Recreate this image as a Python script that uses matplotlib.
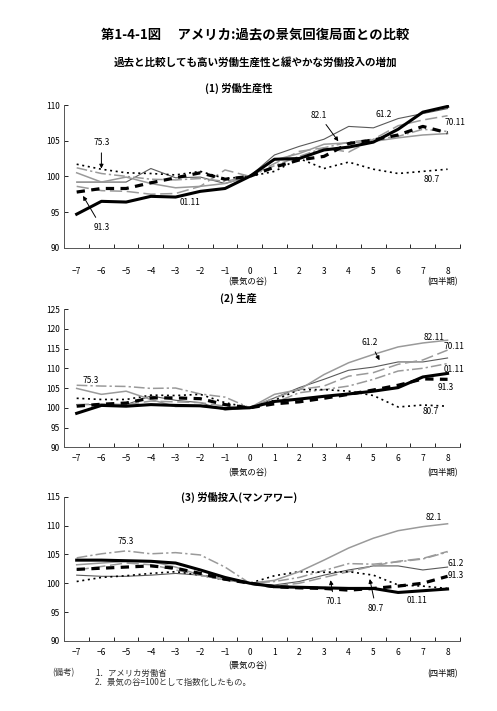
import numpy as np
import matplotlib
matplotlib.use("Agg")
import matplotlib.pyplot as plt

plt.rcParams['font.family'] = ['Noto Sans CJK JP', 'DejaVu Sans']

quarters = list(range(-7, 9))
tick_labels = ['−7', '−6', '−5', '−4', '−3', '−2', '−1', '0',
               '1', '2', '3', '4', '5', '6', '7', '8']

# (1) labor productivity
prod_6102 = [99.2, 99.2, 99.2, 101.1, 99.8, 99.9, 99.0, 100, 103.0, 104.2, 105.2, 107.0, 106.8, 108.1, 108.8, 109.5]
prod_7011 = [98.6, 98.0, 97.9, 97.5, 97.6, 98.6, 100.9, 100, 101.8, 103.5, 104.0, 103.4, 105.2, 107.1, 107.9, 108.5]
prod_7503 = [101.2, 100.4, 100.0, 99.6, 99.5, 99.7, 99.3, 100, 101.5, 102.8, 104.0, 104.8, 105.2, 105.6, 106.6, 106.3]
prod_8007 = [101.7, 101.0, 100.5, 100.4, 100.2, 100.7, 99.7, 100, 100.7, 102.5, 101.1, 102.0, 101.0, 100.4, 100.7, 101.0]
prod_8201 = [100.5, 99.2, 99.9, 99.0, 98.4, 98.6, 99.0, 100, 102.3, 103.2, 104.5, 104.7, 104.9, 105.4, 105.8, 106.0]
prod_9103 = [97.8, 98.3, 98.3, 99.1, 99.8, 100.5, 99.6, 100, 101.3, 102.3, 102.8, 104.6, 105.1, 105.8, 107.0, 106.1]
prod_0111 = [94.7, 96.5, 96.4, 97.2, 97.1, 97.9, 98.3, 100, 102.4, 102.5, 103.7, 104.1, 104.8, 106.6, 109.0, 109.8]

# (2) output
out_6102 = [100.8, 100.8, 100.8, 103.0, 101.9, 101.3, 99.4, 100, 102.5, 105.1, 107.2, 109.5, 110.3, 111.6, 111.6, 112.6]
out_7011 = [100.8, 101.0, 100.8, 101.7, 101.5, 101.3, 100.4, 100, 102.5, 104.6, 105.5, 108.0, 108.9, 111.0, 112.1, 114.6]
out_7503 = [105.7, 105.5, 105.4, 104.9, 105.0, 103.5, 102.7, 100, 101.3, 103.8, 104.6, 105.5, 107.2, 109.3, 110.0, 111.2]
out_8007 = [102.4, 102.1, 102.1, 103.2, 103.1, 103.4, 101.3, 100, 101.9, 104.6, 104.6, 104.2, 103.1, 100.2, 100.7, 100.4]
out_8201 = [104.9, 103.4, 104.2, 102.1, 100.3, 100.4, 99.7, 100, 103.4, 104.6, 108.4, 111.4, 113.5, 115.4, 116.4, 117.1]
out_9103 = [100.4, 100.9, 101.2, 102.5, 102.5, 102.3, 100.8, 100, 101.0, 101.5, 102.4, 103.4, 104.5, 105.7, 107.3, 107.2]
out_0111 = [98.6, 100.6, 100.4, 100.8, 100.6, 100.5, 99.8, 100, 101.6, 102.2, 102.9, 103.5, 104.2, 105.1, 107.8, 108.7]

# (3) labor input (man-hours)
lab_6102 = [101.4, 101.2, 101.2, 101.4, 101.7, 101.4, 100.6, 100, 99.7, 100.3, 101.4, 102.3, 103.0, 103.0, 102.3, 102.8]
lab_7011 = [102.3, 102.9, 103.5, 103.2, 102.3, 101.4, 100.6, 100, 99.5, 100.0, 101.0, 102.0, 103.0, 103.8, 104.3, 105.5]
lab_7503 = [104.4, 105.1, 105.6, 105.1, 105.3, 104.9, 102.8, 100, 100.3, 101.0, 102.2, 103.4, 103.3, 103.7, 104.2, 105.4]
lab_8007 = [100.3, 101.0, 101.3, 101.7, 102.0, 101.4, 100.6, 100, 101.3, 102.0, 101.9, 102.0, 101.4, 99.7, 99.5, 99.1]
lab_8201 = [103.2, 103.5, 103.8, 103.8, 102.8, 101.4, 100.6, 100, 100.5, 102.0, 104.0, 106.1, 107.8, 109.1, 109.8, 110.3]
lab_9103 = [102.4, 102.6, 102.8, 103.0, 102.6, 101.7, 100.7, 100, 99.4, 99.2, 99.1, 98.8, 99.1, 99.5, 100.0, 101.2]
lab_0111 = [104.0, 104.0, 103.9, 103.8, 103.5, 102.3, 101.0, 100, 99.4, 99.3, 99.2, 99.1, 99.1, 98.4, 98.7, 99.0]

styles = {
    '61.2': dict(color='#5a5a5a', lw=0.8, ls='-'),
    '70.11': dict(color='#9a9a9a', lw=1.1, ls=(0, (8, 3))),
    '75.3': dict(color='#9a9a9a', lw=1.1, ls=(0, (7, 2, 1.5, 2))),
    '80.7': dict(color='black', lw=1.2, ls=(0, (1.2, 2.2))),
    '82.1': dict(color='#9a9a9a', lw=1.1, ls='-'),
    '91.3': dict(color='black', lw=2.3, ls=(0, (2.6, 2.0))),
    '01.11': dict(color='black', lw=2.2, ls='-'),
}

panels = [
    dict(title='(1) 労働生産性', ylim=(90, 110), yt=range(90, 111, 5),
         pos=[0.1294, 0.6516, 0.796, 0.2007], tickpad=14, lab1=-34, lab2=-34, tpad=17,
         data=[prod_6102, prod_7011, prod_7503, prod_8007, prod_8201, prod_9103, prod_0111]),
    dict(title='(2) 生産', ylim=(90, 125), yt=range(90, 126, 5),
         pos=[0.1294, 0.3709, 0.796, 0.1945], tickpad=5, lab1=-25, lab2=-25, tpad=11,
         data=[out_6102, out_7011, out_7503, out_8007, out_8201, out_9103, out_0111]),
    dict(title='(3) 労働投入(マンアワー)', ylim=(90, 115), yt=range(90, 116, 5),
         pos=[0.1294, 0.0985, 0.796, 0.203], tickpad=5, lab1=-25, lab2=-33, tpad=-1,
         data=[lab_6102, lab_7011, lab_7503, lab_8007, lab_8201, lab_9103, lab_0111]),
]

fig = plt.figure(figsize=(4.97, 7.11), dpi=100)
fig.text(0.513, 1 - 35 / 711, '第1-4-1図　 アメリカ:過去の景気回復局面との比較',
         ha='center', va='center', fontsize=9.6, fontweight='bold')
fig.text(0.513, 1 - 62 / 711, '過去と比較しても高い労働生産性と緩やかな労働投入の増加',
         ha='center', va='center', fontsize=7.6, fontweight='bold')

axes = []
for p in panels:
    ax = fig.add_axes(p['pos'])
    for name, y in zip(styles.keys(), p['data']):
        ax.plot(quarters, y, **styles[name])
    ax.set_xlim(-7.5, 8.5)
    ax.set_ylim(*p['ylim'])
    ax.set_yticks(list(p['yt']))
    ax.set_xticks(quarters)
    ax.set_xticklabels(tick_labels)
    ax.set_xticks(np.arange(-7.5, 8.6, 1), minor=True)
    ax.tick_params(axis='x', which='major', length=0, pad=p['tickpad'], labelsize=6)
    ax.tick_params(axis='x', which='minor', direction='in', length=3, width=0.6)
    ax.tick_params(axis='y', direction='in', length=3, width=0.6, labelsize=6, pad=3)
    for s in ['top', 'right']:
        ax.spines[s].set_visible(False)
    for s in ['left', 'bottom']:
        ax.spines[s].set_linewidth(0.7)
        ax.spines[s].set_color('#555555')
    ax.annotate(p['title'], xy=(-0.45, 1), xycoords=('data', 'axes fraction'),
                xytext=(0, p['tpad']), textcoords='offset pixels',
                ha='center', va='center', fontsize=7.4, fontweight='bold')
    ax.annotate('(景気の谷)', xy=(-0.1, 0), xycoords=('data', 'axes fraction'),
                xytext=(0, p['lab1']), textcoords='offset pixels',
                ha='center', va='center', fontsize=6)
    ax.annotate('(四半期)', xy=(7.8, 0), xycoords=('data', 'axes fraction'),
                xytext=(0, p['lab2']), textcoords='offset pixels',
                ha='center', va='center', fontsize=6)
    axes.append(ax)

arrow = dict(arrowstyle='-|>', color='black', lw=0.7, mutation_scale=6)
fs = 6

ax1, ax2, ax3 = axes
ax1.annotate('75.3', xy=(-6, 100.7), xytext=(-6, 104.7), ha='center', va='center',
             fontsize=fs, arrowprops=arrow)
ax1.annotate('91.3', xy=(-6.8, 97.6), xytext=(-6, 92.9), ha='center', va='center',
             fontsize=fs, arrowprops=arrow)
ax1.text(-2.4, 96.3, '01.11', ha='center', va='center', fontsize=fs)
ax1.annotate('82.1', xy=(3.65, 104.6), xytext=(2.8, 108.6), ha='center', va='center',
             fontsize=fs, arrowprops=arrow)
ax1.text(5.4, 108.7, '61.2', ha='center', va='center', fontsize=fs)
ax1.text(8.3, 107.5, '70.11', ha='center', va='center', fontsize=fs)
ax1.text(7.35, 99.6, '80.7', ha='center', va='center', fontsize=fs)

ax2.text(-6.45, 107.0, '75.3', ha='center', va='center', fontsize=fs)
ax2.annotate('61.2', xy=(5.3, 111.4), xytext=(4.87, 116.6), ha='center', va='center',
             fontsize=fs, arrowprops=arrow)
ax2.text(7.46, 117.9, '82.11', ha='center', va='center', fontsize=fs)
ax2.text(8.27, 115.4, '70.11', ha='center', va='center', fontsize=fs)
ax2.text(8.27, 109.7, '01.11', ha='center', va='center', fontsize=fs)
ax2.text(7.93, 105.2, '91.3', ha='center', va='center', fontsize=fs)
ax2.text(7.32, 99.1, '80.7', ha='center', va='center', fontsize=fs)

ax3.text(-5.0, 107.2, '75.3', ha='center', va='center', fontsize=fs)
ax3.text(7.46, 111.4, '82.1', ha='center', va='center', fontsize=fs)
ax3.text(8.34, 103.5, '61.2', ha='center', va='center', fontsize=fs)
ax3.text(8.34, 101.4, '91.3', ha='center', va='center', fontsize=fs)
ax3.text(6.76, 97.0, '01.11', ha='center', va='center', fontsize=fs)
ax3.annotate('70.1', xy=(3.25, 101.0), xytext=(3.41, 96.8), ha='center', va='center',
             fontsize=fs, arrowprops=arrow)
ax3.annotate('80.7', xy=(4.83, 101.2), xytext=(5.1, 95.7), ha='center', va='center',
             fontsize=fs, arrowprops=arrow)

fig.text(52 / 497, 1 - 673 / 711, '(備考)', ha='left', va='center', fontsize=6, color='#333333')
fig.text(95 / 497, 1 - 673 / 711, '1．アメリカ労働省', ha='left', va='center', fontsize=6, color='#333333')
fig.text(95 / 497, 1 - 682 / 711, '2．景気の谷=100として指数化したもの。', ha='left', va='center',
         fontsize=6, color='#333333')

fig.savefig('out.png', dpi=100)
